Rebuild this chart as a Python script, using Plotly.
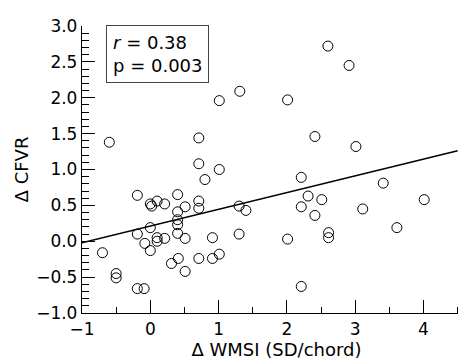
import plotly.graph_objects as go

wmsi = [0.71, 1.01, 0.80, -0.19, 0.40, 0.00, 0.02, 0.10, 0.21, 0.51, 0.71, 0.71, 0.40, 0.40, 0.40,
        0.00, -0.19, 0.40, 0.10, 0.10, 0.21, 0.51, -0.08, 0.00, -0.70, 0.91, 1.30, 1.30, 1.40,
        0.41, 0.31, 0.71, 0.91, 1.01, 0.51, -0.50, -0.50, -0.19, -0.09, -0.60, 0.71, 1.01, 1.31,
        2.60, 2.91, 2.01, 2.41, 3.01, 2.21, 3.41, 2.31, 2.51, 2.21, 4.01, 3.11, 2.41, 3.61,
        2.61, 2.61, 2.01, 2.21]
cfvr = [1.08, 1.00, 0.86, 0.64, 0.65, 0.52, 0.49, 0.56, 0.52, 0.48, 0.56, 0.46, 0.41, 0.30, 0.23,
        0.19, 0.10, 0.11, 0.05, 0.00, 0.04, 0.04, -0.03, -0.13, -0.16, 0.05, 0.10, 0.49, 0.43,
        -0.24, -0.31, -0.24, -0.24, -0.18, -0.42, -0.45, -0.51, -0.66, -0.66, 1.38, 1.44, 1.96, 2.09,
        2.72, 2.45, 1.97, 1.46, 1.32, 0.89, 0.81, 0.63, 0.58, 0.48, 0.58, 0.45, 0.36, 0.19,
        0.12, 0.05, 0.03, -0.63]

fit_x = [-1.0, 4.5]
fit_y = [-0.02, 1.26]

X_RANGE = [-1, 4.695]
Y_RANGE = [-1, 3.0]

FONT = "DejaVu Sans"
TICK = "black"

fig = go.Figure()
fig.add_trace(go.Scatter(x=fit_x, y=fit_y, mode="lines",
                         line=dict(color="black", width=1.5), showlegend=False, hoverinfo="skip"))
fig.add_trace(go.Scatter(x=wmsi, y=cfvr, mode="markers",
                         marker=dict(symbol="circle-open", size=10, color="black",
                                     line=dict(width=1, color="black")),
                         showlegend=False))

fig.add_annotation(xref="paper", yref="paper", x=0.062, y=1.004, xanchor="left", yanchor="top",
                   text="<i>r</i> = 0.38<br>p = 0.003", showarrow=False, align="left",
                   font=dict(family=FONT, size=18, color="black"),
                   bordercolor="#444", borderwidth=1, borderpad=6, bgcolor="white")

fig.update_layout(
    template="none",
    width=466, height=360,
    margin=dict(l=74, r=3, t=18, b=55),
    plot_bgcolor="white", paper_bgcolor="white",
    font=dict(family=FONT, size=17, color="black"),
    xaxis=dict(range=X_RANGE, dtick=1,
               ticks="inside", ticklen=13, tickwidth=1.3, tickcolor=TICK,
               minor=dict(dtick=0.5, ticks="inside", ticklen=6, tickwidth=1.3, tickcolor=TICK),
               showline=True, linecolor="black", linewidth=1.3,
               showgrid=True, gridcolor="rgba(0,0,0,0)", zeroline=False,
               title=dict(text="\u0394 WMSI (SD/chord)", font=dict(size=18), standoff=4)),
    yaxis=dict(range=Y_RANGE, dtick=0.5, tickformat=".1f",
               ticks="inside", ticklen=13, tickwidth=1.3, tickcolor=TICK,
               minor=dict(dtick=0.1, ticks="inside", ticklen=7, tickwidth=1.3, tickcolor=TICK),
               showline=True, linecolor="black", linewidth=1.3,
               showgrid=True, gridcolor="rgba(0,0,0,0)", zeroline=False,
               title=dict(text="\u0394 CFVR", font=dict(size=18), standoff=2)),
)

fig.write_html("out.html")
